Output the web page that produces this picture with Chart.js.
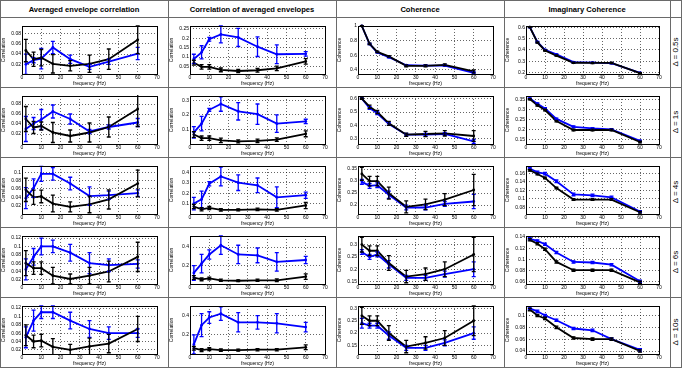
<!DOCTYPE html>
<html><head><meta charset="utf-8">
<script src="https://cdn.jsdelivr.net/npm/chart.js@4/dist/chart.umd.min.js"></script>
<style>
html,body{margin:0;padding:0;background:#fff;}
#wrap{position:relative;width:682px;height:372px;overflow:hidden;font-family:'Liberation Sans',Arial,sans-serif;}
.hl{position:absolute;height:1px;background:#6a6a6a;}
.vl{position:absolute;width:1px;background:#6a6a6a;}
.hdr{position:absolute;top:0;height:17px;line-height:19px;text-align:center;font-weight:bold;font-size:7.6px;color:#000;}
.rl{position:absolute;width:60px;height:10px;line-height:10px;text-align:center;font-size:8px;color:#000;transform:rotate(-90deg);}
canvas{position:absolute;}
</style></head><body><div id="wrap"></div>
<script>
const FREQ = [2, 6, 10, 16, 25, 35, 45, 60];
const COL_TITLES = ['Averaged envelope correlation', 'Correlation of averaged envelopes', 'Coherence', 'Imaginary Coherence'];
const Y_TITLES = ['Correlation', 'Correlation', 'Coherence', 'Coherence'];
const ROW_LABELS = ['\u0394 = 0.5s', '\u0394 = 1s', '\u0394 = 4s', '\u0394 = 6s', '\u0394 = 10s'];
const X_TITLE = 'frequency (Hz)';
const X_TICKS = [0, 10, 20, 30, 40, 50, 60, 70];

// Averaged envelope correlation
const aecBlack = [
  [0.047, 0.030, 0.033, 0.021, 0.017, 0.021, 0.030, 0.068],
  [0.050, 0.033, 0.036, 0.023, 0.016, 0.023, 0.034, 0.070],
  [0.058, 0.040, 0.042, 0.025, 0.017, 0.023, 0.035, 0.073],
  [0.060, 0.048, 0.048, 0.030, 0.022, 0.030, 0.040, 0.075],
  [0.055, 0.040, 0.042, 0.027, 0.020, 0.028, 0.035, 0.070]];
const aecBlackErr = [
  [0.022, 0.014, 0.016, 0.018, 0.010, 0.017, 0.020, 0.027],
  [0.025, 0.012, 0.008, 0.020, 0.012, 0.019, 0.020, 0.035],
  [0.028, 0.017, 0.015, 0.020, 0.012, 0.020, 0.023, 0.032],
  [0.030, 0.015, 0.015, 0.020, 0.012, 0.020, 0.025, 0.035],
  [0.025, 0.015, 0.015, 0.020, 0.013, 0.020, 0.022, 0.030]];
const aecBlue = [
  [0.020, 0.028, 0.031, 0.053, 0.030, 0.015, 0.025, 0.041],
  [0.030, 0.041, 0.049, 0.065, 0.050, 0.025, 0.034, 0.043],
  [0.038, 0.062, 0.096, 0.096, 0.073, 0.043, 0.045, 0.050],
  [0.045, 0.075, 0.100, 0.100, 0.085, 0.060, 0.055, 0.058],
  [0.050, 0.090, 0.110, 0.110, 0.090, 0.070, 0.060, 0.060]];
const aecBlueErr = [
  [0.020, 0.005, 0.020, 0.012, 0.008, 0.005, 0.005, 0.012],
  [0.025, 0.012, 0.020, 0.013, 0.010, 0.004, 0.004, 0.008],
  [0.025, 0.022, 0.018, 0.015, 0.015, 0.022, 0.010, 0.008],
  [0.025, 0.020, 0.020, 0.015, 0.020, 0.025, 0.015, 0.010],
  [0.025, 0.025, 0.015, 0.015, 0.020, 0.020, 0.015, 0.010]];
const aecYLim = [[0.001, 0.095], [0, 0.096], [0, 0.115], [0.01, 0.125], [0.01, 0.125]];
const aecYTicks = [[0.02, 0.04, 0.06, 0.08], [0.02, 0.04, 0.06, 0.08], [0.02, 0.04, 0.06, 0.08, 0.1],
  [0.02, 0.04, 0.06, 0.08, 0.1, 0.12], [0.02, 0.04, 0.06, 0.08, 0.1, 0.12]];

// Correlation of averaged envelopes
const caeBlack = [
  [0.070, 0.048, 0.048, 0.032, 0.026, 0.030, 0.040, 0.077],
  [0.065, 0.040, 0.040, 0.025, 0.018, 0.022, 0.030, 0.070],
  [0.072, 0.045, 0.058, 0.040, 0.040, 0.045, 0.040, 0.082],
  [0.070, 0.050, 0.060, 0.040, 0.035, 0.040, 0.040, 0.080],
  [0.060, 0.040, 0.050, 0.040, 0.040, 0.045, 0.045, 0.070]];
const caeBlackErr = [
  [0.013, 0.012, 0.012, 0.010, 0.008, 0.010, 0.012, 0.015],
  [0.020, 0.015, 0.015, 0.015, 0.010, 0.012, 0.012, 0.020],
  [0.020, 0.015, 0.015, 0.012, 0.010, 0.012, 0.012, 0.030],
  [0.020, 0.015, 0.015, 0.012, 0.010, 0.012, 0.015, 0.030],
  [0.020, 0.015, 0.015, 0.012, 0.010, 0.012, 0.012, 0.025]];
const caeBlue = [
  [0.090, 0.125, 0.195, 0.220, 0.204, 0.155, 0.115, 0.117],
  [0.080, 0.140, 0.235, 0.275, 0.225, 0.205, 0.140, 0.155],
  [0.100, 0.140, 0.290, 0.360, 0.300, 0.275, 0.160, 0.180],
  [0.120, 0.220, 0.320, 0.420, 0.320, 0.310, 0.240, 0.260],
  [0.100, 0.300, 0.380, 0.420, 0.330, 0.330, 0.320, 0.280]];
const caeBlueErr = [
  [0.025, 0.035, 0.010, 0.045, 0.048, 0.052, 0.050, 0.012],
  [0.040, 0.050, 0.010, 0.050, 0.060, 0.070, 0.060, 0.015],
  [0.060, 0.080, 0.020, 0.090, 0.075, 0.070, 0.100, 0.030],
  [0.080, 0.100, 0.050, 0.100, 0.100, 0.080, 0.100, 0.040],
  [0.100, 0.120, 0.060, 0.070, 0.100, 0.070, 0.100, 0.050]];
const caeYLim = [[0.01, 0.265], [0, 0.33], [0, 0.46], [0, 0.52], [0, 0.5]];
const caeYTicks = [[0.05, 0.1, 0.15, 0.2, 0.25], [0.1, 0.2, 0.3], [0.1, 0.2, 0.3, 0.4], [0.2, 0.4], [0.2, 0.4]];

// Coherence
const cohBlack = [
  [1.000, 0.757, 0.646, 0.586, 0.456, 0.456, 0.470, 0.380],
  [0.600, 0.540, 0.500, 0.415, 0.330, 0.335, 0.340, 0.320],
  [0.330, 0.300, 0.300, 0.250, 0.193, 0.203, 0.223, 0.263],
  [0.300, 0.275, 0.275, 0.225, 0.170, 0.180, 0.200, 0.260],
  [0.270, 0.250, 0.250, 0.200, 0.145, 0.160, 0.180, 0.250]];
const cohBlackErr = [
  [0.005, 0.010, 0.010, 0.010, 0.012, 0.012, 0.012, 0.020],
  [0.005, 0.012, 0.012, 0.015, 0.012, 0.020, 0.020, 0.040],
  [0.027, 0.020, 0.020, 0.025, 0.025, 0.022, 0.025, 0.065],
  [0.030, 0.020, 0.020, 0.030, 0.025, 0.025, 0.030, 0.070],
  [0.035, 0.020, 0.020, 0.030, 0.025, 0.025, 0.030, 0.060]];
const cohBlue = [
  [1.000, 0.755, 0.640, 0.575, 0.465, 0.460, 0.460, 0.360],
  [0.600, 0.530, 0.490, 0.410, 0.330, 0.330, 0.335, 0.280],
  [0.297, 0.280, 0.283, 0.243, 0.190, 0.190, 0.205, 0.215],
  [0.270, 0.250, 0.260, 0.220, 0.165, 0.165, 0.180, 0.200],
  [0.240, 0.230, 0.230, 0.190, 0.140, 0.140, 0.160, 0.200]];
const cohBlueErr = [
  [0.005, 0.008, 0.008, 0.008, 0.008, 0.008, 0.008, 0.012],
  [0.005, 0.010, 0.010, 0.010, 0.010, 0.010, 0.010, 0.015],
  [0.010, 0.010, 0.010, 0.015, 0.010, 0.010, 0.010, 0.030],
  [0.010, 0.010, 0.010, 0.015, 0.010, 0.010, 0.012, 0.030],
  [0.020, 0.010, 0.010, 0.015, 0.010, 0.010, 0.012, 0.025]];
const cohYLim = [[0.345, 1.0], [0.26, 0.62], [0.163, 0.363], [0.14, 0.335], [0.115, 0.31]];
const cohYTicks = [[0.4, 0.6, 0.8, 1], [0.3, 0.4, 0.5, 0.6], [0.2, 0.25, 0.3, 0.35], [0.15, 0.2, 0.25, 0.3], [0.15, 0.2, 0.25, 0.3]];

// Imaginary coherence
const icohBlack = [
  [0.600, 0.465, 0.395, 0.350, 0.287, 0.285, 0.285, 0.195],
  [0.353, 0.322, 0.298, 0.242, 0.197, 0.197, 0.197, 0.136],
  [0.167, 0.158, 0.149, 0.125, 0.098, 0.098, 0.098, 0.068],
  [0.135, 0.128, 0.118, 0.095, 0.080, 0.080, 0.080, 0.058],
  [0.110, 0.100, 0.095, 0.080, 0.062, 0.060, 0.060, 0.040]];
const icohBlackErr = [
  [0.004, 0.005, 0.005, 0.005, 0.005, 0.005, 0.005, 0.005],
  [0.003, 0.004, 0.004, 0.004, 0.004, 0.004, 0.004, 0.004],
  [0.002, 0.002, 0.002, 0.002, 0.002, 0.002, 0.002, 0.002],
  [0.002, 0.002, 0.002, 0.002, 0.002, 0.002, 0.002, 0.002],
  [0.002, 0.002, 0.002, 0.002, 0.002, 0.002, 0.002, 0.002]];
const icohBlue = [
  [0.600, 0.470, 0.400, 0.360, 0.292, 0.288, 0.283, 0.198],
  [0.356, 0.330, 0.306, 0.253, 0.213, 0.205, 0.200, 0.142],
  [0.171, 0.162, 0.159, 0.141, 0.110, 0.108, 0.103, 0.070],
  [0.137, 0.133, 0.127, 0.112, 0.095, 0.094, 0.090, 0.060],
  [0.112, 0.107, 0.100, 0.092, 0.078, 0.075, 0.060, 0.042]];
const icohBlueErr = [
  [0.004, 0.005, 0.005, 0.005, 0.005, 0.005, 0.005, 0.005],
  [0.003, 0.004, 0.004, 0.004, 0.004, 0.004, 0.004, 0.004],
  [0.002, 0.003, 0.003, 0.003, 0.003, 0.003, 0.003, 0.002],
  [0.002, 0.002, 0.002, 0.002, 0.002, 0.002, 0.002, 0.002],
  [0.002, 0.002, 0.002, 0.002, 0.002, 0.002, 0.002, 0.002]];
const icohYLim = [[0.188, 0.61], [0.126, 0.369], [0.064, 0.177], [0.055, 0.142], [0.035, 0.116]];
const icohYTicks = [[0.2, 0.3, 0.4, 0.5, 0.6], [0.15, 0.2, 0.25, 0.3, 0.35], [0.08, 0.1, 0.12, 0.14, 0.16],
  [0.06, 0.08, 0.1, 0.12, 0.14], [0.04, 0.06, 0.08, 0.1]];

const MEASURES = [
  {black: aecBlack, blackErr: aecBlackErr, blue: aecBlue, blueErr: aecBlueErr, lim: aecYLim, ticks: aecYTicks},
  {black: caeBlack, blackErr: caeBlackErr, blue: caeBlue, blueErr: caeBlueErr, lim: caeYLim, ticks: caeYTicks},
  {black: cohBlack, blackErr: cohBlackErr, blue: cohBlue, blueErr: cohBlueErr, lim: cohYLim, ticks: cohYTicks},
  {black: icohBlack, blackErr: icohBlackErr, blue: icohBlue, blueErr: icohBlueErr, lim: icohYLim, ticks: icohYTicks}];

// ---- layout ----
const W = 682, COLW = 168, HDR = 17, ROWH = 70, LASTX = 670;
const wrap = document.getElementById('wrap');
function line(cls, x, y, len) {
  const d = document.createElement('div'); d.className = cls;
  d.style.left = x + 'px'; d.style.top = y + 'px';
  if (cls === 'hl') d.style.width = len + 'px'; else d.style.height = len + 'px';
  wrap.appendChild(d);
}
const bottom = HDR + ROWH * 5;
line('hl', 0, 0, W);
for (let r = 0; r <= 5; r++) line('hl', 0, HDR + ROWH * r, W);
[0, COLW, COLW * 2, COLW * 3, LASTX, W - 1].forEach(x => line('vl', x, 0, bottom + 1));
COL_TITLES.forEach((t, c) => {
  const d = document.createElement('div'); d.className = 'hdr';
  d.style.left = (c * COLW) + 'px'; d.style.width = (c === 3 ? LASTX - 3 * COLW : COLW) + 'px';
  d.textContent = t; wrap.appendChild(d);
});
ROW_LABELS.forEach((t, r) => {
  const d = document.createElement('div'); d.className = 'rl';
  d.style.left = (676 - 30) + 'px'; d.style.top = (HDR + ROWH * r + ROWH / 2 - 5) + 'px';
  d.textContent = t; wrap.appendChild(d);
});

const fmt = v => String(+(+v).toFixed(3));
const FONT = {family: "'Liberation Sans', Arial, sans-serif", size: 5};

const errPlugin = {
  id: 'errbars',
  afterDatasetsDraw(chart) {
    const {ctx, chartArea: a, scales: {x, y}} = chart;
    ctx.save();
    ctx.beginPath(); ctx.rect(a.left, a.top - 1, a.right - a.left, a.bottom - a.top + 2); ctx.clip();
    for (let d = chart.data.datasets.length - 1; d >= 0; d--) {
      const ds = chart.data.datasets[d];
      ctx.strokeStyle = ds.borderColor; ctx.lineWidth = 1.3;
      ds.data.forEach((p, i) => {
        const e = ds.err[i];
        const px = x.getPixelForValue(p.x);
        const y1 = y.getPixelForValue(p.y - e), y2 = y.getPixelForValue(p.y + e);
        ctx.beginPath();
        ctx.moveTo(px, y1); ctx.lineTo(px, y2);
        ctx.moveTo(px - 2, y1); ctx.lineTo(px + 2, y1);
        ctx.moveTo(px - 2, y2); ctx.lineTo(px + 2, y2);
        ctx.stroke();
      });
    }
    ctx.restore();
    ctx.save();
    ctx.strokeStyle = '#000'; ctx.lineWidth = 1;
    ctx.strokeRect(Math.round(a.left) + 0.5, Math.round(a.top) + 0.5, Math.round(a.right - a.left), Math.round(a.bottom - a.top));
    ctx.restore();
  }
};

for (let r = 0; r < 5; r++) {
  for (let c = 0; c < 4; c++) {
    const m = MEASURES[c];
    const cv = document.createElement('canvas');
    const w = c === 3 ? LASTX - 3 * COLW : COLW;
    cv.width = w; cv.height = ROWH; cv.style.width = w + 'px'; cv.style.height = ROWH + 'px';
    cv.style.left = (c * COLW) + 'px'; cv.style.top = (HDR + ROWH * r) + 'px';
    wrap.appendChild(cv);
    const mk = (vals, errs, col) => ({
      data: FREQ.map((f, i) => ({x: f, y: vals[i]})), err: errs,
      borderColor: col, backgroundColor: col, borderWidth: 1.8,
      pointRadius: 1.4, pointBorderWidth: 0, pointBackgroundColor: col, tension: 0, clip: 2
    });
    const yt = m.ticks[r];
    new Chart(cv, {
      type: 'line',
      data: {datasets: [mk(m.black[r], m.blackErr[r], '#000000'), mk(m.blue[r], m.blueErr[r], '#0000ff')]},
      options: {
        animation: false, responsive: false, devicePixelRatio: 1,
        layout: {padding: {left: 1, right: 11, top: 9, bottom: 0}},
        plugins: {legend: {display: false}, tooltip: {enabled: false}},
        scales: {
          x: {
            type: 'linear', min: 0, max: 70,
            afterBuildTicks: s => { s.ticks = X_TICKS.map(v => ({value: v})); },
            afterFit: s => { s.height = 13; },
            ticks: {font: FONT, color: '#000', padding: 1, maxRotation: 0, autoSkip: false, callback: v => fmt(v)},
            grid: {color: 'rgba(0,0,0,0.6)', lineWidth: 1, drawTicks: false},
            border: {display: false, dash: [1, 2]},
            title: {display: true, text: X_TITLE, font: FONT, color: '#000', padding: 0}
          },
          y: {
            type: 'linear', min: m.lim[r][0], max: m.lim[r][1],
            afterBuildTicks: s => { s.ticks = yt.map(v => ({value: v})); },
            afterFit: s => { s.width = 21; },
            ticks: {font: FONT, color: '#000', padding: 1, autoSkip: false, callback: v => fmt(v)},
            grid: {color: 'rgba(0,0,0,0.6)', lineWidth: 1, drawTicks: false},
            border: {display: false, dash: [1, 2]},
            title: {display: true, text: Y_TITLES[c], font: FONT, color: '#000', padding: 0}
          }
        }
      },
      plugins: [errPlugin]
    });
  }
}
</script></body></html>
